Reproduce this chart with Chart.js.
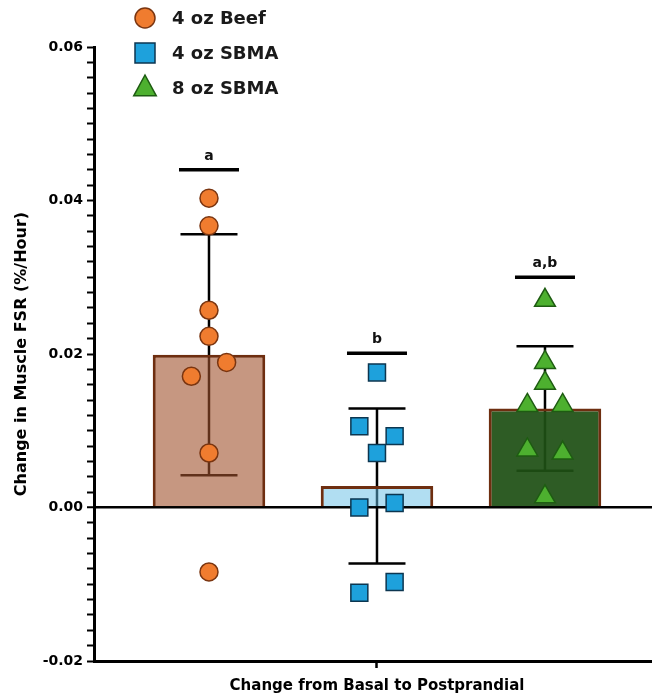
<!DOCTYPE html>
<html><head><meta charset="utf-8">
<script src="https://cdn.jsdelivr.net/npm/chart.js@4.4.0/dist/chart.umd.min.js"></script>
<style>html,body{margin:0;padding:0;background:#fff;overflow:hidden}#wrap{width:652px;height:696px;position:relative}canvas{display:block}</style>
</head><body><div id="wrap"><canvas id="c"></canvas></div>
<script>
// ---- data ----
const categories = ['4 oz Beef', '4 oz SBMA', '8 oz SBMA'];
const beefValues  = [0.0403, 0.0367, 0.0257, 0.0223, 0.0171, 0.0189, 0.0071, -0.0084];
const sbma4Values = [0.0176, 0.0106, 0.0093, 0.0071, 0.0000, 0.0006, -0.0111, -0.0097];
const sbma8Values = [0.0270, 0.0189, 0.0162, 0.0133, 0.0133, 0.0075, 0.0071, 0.0014];
const barMeans = [0.0199, 0.0028, 0.0129];
const barSD    = [0.0157, 0.0101, 0.0081];
const sigLetters = ['a', 'b', 'a,b'];
const sigLevels  = [0.0440, 0.0201, 0.0300];
const yTickLabels = ['-0.02', '0.00', '0.02', '0.04', '0.06'];
const xTickLabel = 'Change from Basal to Postprandial';
const yTitle = 'Change in Muscle FSR (%/Hour)';

// ---- styles ----
const FONT = '"DejaVu Sans", sans-serif';
const styles = [
  {fill: '#f07c2f', border: '#7a3510', style: 'circle',   r: 9},
  {fill: '#1ea1dc', border: '#0c3650', style: 'rect',     r: 12},
  {fill: '#4db02f', border: '#1e5c12', style: 'triangle', r: 12}
];
const barFills = ['rgba(160,82,45,0.6)', 'rgba(100,190,230,0.5)', 'rgba(30,80,20,0.93)'];
const groups = [beefValues, sbma4Values, sbma8Values];

// spread points that share a row, symmetric about the category centre
function swarm(vals, cx, thr, step) {
  const idx = vals.map((v, i) => i).sort((a, b) => vals[a] - vals[b]);
  const clusters = []; let cur = null;
  idx.forEach(i => {
    if (!cur || vals[i] - vals[cur[0]] > thr + 1e-12) { cur = [i]; clusters.push(cur); }
    else cur.push(i);
  });
  const out = vals.map(v => ({x: cx, y: v}));
  clusters.forEach(c => {
    c.sort((a, b) => a - b);
    c.forEach((i, k) => { out[i].x = cx + (k - (c.length - 1) / 2) * step; });
  });
  return out;
}

const isZero = v => Math.abs(v) < 1e-9;

const errorBarPlugin = {
  id: 'errorBars',
  beforeDatasetsDraw(chart) {
    const {ctx, scales: {x, y}} = chart;
    ctx.save();
    ctx.strokeStyle = '#000'; ctx.lineWidth = 2.5;
    barMeans.forEach((m, i) => {
      const cx = x.getPixelForValue(i + 1);
      const t = y.getPixelForValue(m + barSD[i]);
      const b = y.getPixelForValue(m - barSD[i]);
      const h = 28.5;
      ctx.beginPath();
      ctx.moveTo(cx, t); ctx.lineTo(cx, b);
      ctx.moveTo(cx - h, t); ctx.lineTo(cx + h, t);
      ctx.moveTo(cx - h, b); ctx.lineTo(cx + h, b);
      ctx.stroke();
    });
    ctx.restore();
  }
};

const sigPlugin = {
  id: 'sig',
  afterDatasetsDraw(chart) {
    const {ctx, scales: {x, y}} = chart;
    ctx.save();
    ctx.strokeStyle = '#000'; ctx.lineWidth = 3.5;
    ctx.fillStyle = '#111';
    ctx.font = 'bold 14px ' + FONT;
    ctx.textAlign = 'center'; ctx.textBaseline = 'alphabetic';
    sigLevels.forEach((v, i) => {
      const cx = x.getPixelForValue(i + 1);
      const py = y.getPixelForValue(v);
      ctx.beginPath(); ctx.moveTo(cx - 30, py); ctx.lineTo(cx + 30, py); ctx.stroke();
      ctx.fillText(sigLetters[i], cx, py - 10);
    });
    ctx.restore();
  }
};

function marker(ctx, st, x, y, r) {
  ctx.beginPath();
  if (st.style === 'circle') {
    ctx.arc(x, y, r, 0, Math.PI * 2);
  } else if (st.style === 'rect') {
    ctx.rect(x - r, y - r, 2 * r, 2 * r);
  } else {
    ctx.moveTo(x, y - r);
    ctx.lineTo(x + r * 0.866, y + r * 0.6);
    ctx.lineTo(x - r * 0.866, y + r * 0.6);
    ctx.closePath();
  }
  ctx.fillStyle = st.fill; ctx.fill();
  ctx.lineWidth = 1.5; ctx.strokeStyle = st.border; ctx.stroke();
}

const legendPlugin = {
  id: 'customLegend',
  afterDraw(chart) {
    const ctx = chart.ctx;
    ctx.save();
    const ys = [18, 53, 88];
    categories.forEach((c, i) => {
      const st = styles[i];
      const r = st.style === 'triangle' ? 13 : 10;
      marker(ctx, st, 145, ys[i], r);
      ctx.fillStyle = '#1a1a1a';
      ctx.font = 'bold 18px ' + FONT;
      ctx.textAlign = 'left'; ctx.textBaseline = 'middle';
      ctx.fillText(c, 172, ys[i] + 1);
    });
    ctx.restore();
  }
};

const datasets = [{
  type: 'bar',
  label: 'mean',
  data: barMeans.map((m, i) => ({x: i + 1, y: m})),
  backgroundColor: barFills,
  borderColor: '#6e2e10',
  borderWidth: 3,
  borderSkipped: 'start',
  barPercentage: 0.67,
  categoryPercentage: 1,
  order: 10
}].concat(groups.map((g, i) => ({
  type: 'scatter',
  label: categories[i],
  data: swarm(g, i + 1, 0.0021, 0.21),
  pointStyle: styles[i].style,
  pointRadius: styles[i].r,
  pointHoverRadius: styles[i].r,
  backgroundColor: styles[i].fill,
  borderColor: styles[i].border,
  borderWidth: 1.5,
  order: 1
})));

new Chart(document.getElementById('c'), {
  type: 'bar',
  data: {datasets},
  options: {
    responsive: true,
    maintainAspectRatio: false,
    animation: false,
    events: [],
    layout: {autoPadding: false, padding: {top: 47, right: 0, bottom: 0, left: 0}},
    plugins: {legend: {display: false}, tooltip: {enabled: false}},
    scales: {
      x: {
        type: 'linear', min: 0.3155, max: 3.637, offset: false,
        afterBuildTicks: s => { s.ticks = [{value: 2}]; },
        afterFit: s => { s.height = 35; s.paddingLeft = 0; s.paddingRight = 0; },
        ticks: {callback: () => xTickLabel, color: '#000', padding: 9, maxRotation: 0, autoSkip: false,
                font: {family: FONT, size: 15, weight: 'bold'}},
        grid: {drawOnChartArea: false, offset: false, tickLength: 7, tickColor: '#000', tickWidth: 2.5},
        border: {color: '#000', width: 3}
      },
      y: {
        type: 'linear', min: -0.02, max: 0.06,
        afterFit: s => { s.width = 94; },
        ticks: {
          stepSize: 0.002, autoSkip: false, padding: 4, color: '#000',
          font: {family: FONT, size: 14, weight: 'bold'},
          callback: v => { const l = yTickLabels.find(t => Math.abs(parseFloat(t) - v) < 1e-9); return l === undefined ? '' : l; }
        },
        grid: {
          drawOnChartArea: true,
          color: c => (c.tick && isZero(c.tick.value)) ? '#000' : 'rgba(0,0,0,0)',
          lineWidth: c => (c.tick && isZero(c.tick.value)) ? 2.5 : 1,
          tickColor: '#000', tickWidth: 2, tickLength: 7
        },
        border: {color: '#000', width: 3},
        title: {display: true, text: yTitle, color: '#000', padding: {top: 12, bottom: 0},
                font: {family: FONT, size: 16, weight: 'bold'}}
      }
    }
  },
  plugins: [errorBarPlugin, sigPlugin, legendPlugin]
});
</script>
</body></html>
